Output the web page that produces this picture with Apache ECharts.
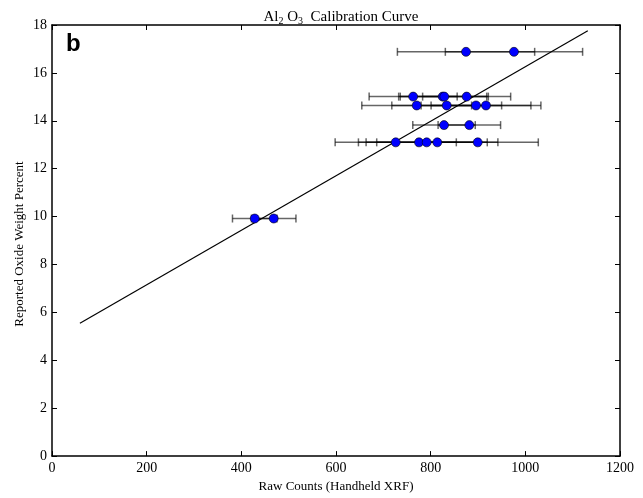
<!DOCTYPE html>
<html>
<head>
<meta charset="utf-8">
<script src="https://cdn.jsdelivr.net/npm/echarts@6/dist/echarts.min.js"></script>
<style>html,body{margin:0;padding:0;background:#fff;}#c{width:643px;height:498px;}</style>
</head>
<body>
<div id="c"></div>
<script>
// Data
const countsX = [874.7, 976, 763, 825.4, 828.8, 876, 770.5, 833.9, 895.8, 916.9, 828.2, 881.7, 726.2, 775.4, 791.6, 814, 899.4, 428.3, 468.4];
const weightY = [16.88, 16.88, 15.01, 15.01, 15.01, 15.01, 14.64, 14.64, 14.64, 14.64, 13.82, 13.82, 13.10, 13.10, 13.10, 13.10, 13.10, 9.92, 9.92];
const countsErr = [145, 145, 93, 93, 93, 93, 116, 116, 116, 116, 66, 66, 128, 128, 128, 128, 128, 47, 47];
const fitLineX = [59, 1132];
const fitLineY = [5.55, 17.76];
const xTicks = [0, 200, 400, 600, 800, 1000, 1200];
const yTicks = [0, 2, 4, 6, 8, 10, 12, 14, 16, 18];

const pts = countsX.map((x, i) => [x, weightY[i]]);
const errData = countsX.map((x, i) => [x - countsErr[i], x + countsErr[i], weightY[i]]);
const lineData = fitLineX.map((x, i) => [x, fitLineY[i]]);

const serif = 'Liberation Serif';
const axisBase = {
  axisLine: {show: true, onZero: false, lineStyle: {color: '#000', width: 1.5}},
  axisTick: {show: true, inside: true, length: 5, lineStyle: {color: '#000', width: 1}},
  splitLine: {show: false}
};

const chart = echarts.init(document.getElementById('c'), null, {renderer: 'canvas'});
chart.setOption({
  animation: false,
  backgroundColor: '#fff',
  title: {
    text: '{n|Al}{s|2}{n| O}{s|3}{n|  Calibration Curve}',
    left: 336, textAlign: 'center', top: 3,
    textStyle: {
      fontWeight: 'normal',
      rich: {
        n: {fontFamily: serif, fontSize: 15, fontWeight: 'normal', color: '#000', lineHeight: 18},
        s: {fontFamily: serif, fontSize: 10, fontWeight: 'normal', color: '#000', lineHeight: 18, padding: [8, 0, 0, 0]}
      }
    }
  },
  grid: {left: 52, right: 23, top: 25, bottom: 35},
  xAxis: [
    Object.assign({}, axisBase, {
      type: 'value', min: 0, max: 1200, interval: 200, position: 'bottom',
      name: 'Raw Counts (Handheld XRF)', nameLocation: 'middle', nameGap: 22,
      nameTextStyle: {fontFamily: serif, fontSize: 13, color: '#000'},
      axisLabel: {fontFamily: serif, fontSize: 14, color: '#000', margin: 5, formatter: v => String(v)}
    }),
    Object.assign({}, axisBase, {
      type: 'value', min: 0, max: 1200, interval: 200, position: 'top',
      axisLabel: {show: false}
    })
  ],
  yAxis: [
    Object.assign({}, axisBase, {
      type: 'value', min: 0, max: 18, interval: 2, position: 'left',
      axisLabel: {fontFamily: serif, fontSize: 14, color: '#000', margin: 5, formatter: v => String(v)}
    }),
    Object.assign({}, axisBase, {
      type: 'value', min: 0, max: 18, interval: 2, position: 'right',
      axisLabel: {show: false}
    })
  ],
  graphic: [
    {
      type: 'text', left: 66, top: 32,
      style: {text: 'b', font: 'bold 24px "Liberation Sans"', fill: '#000'}
    },
    {
      type: 'text', x: 20, y: 244, rotation: Math.PI / 2,
      style: {text: 'Reported Oxide Weight Percent', font: '13px "Liberation Serif"', fill: '#000',
              align: 'center', verticalAlign: 'middle'}
    }
  ],
  series: [
    {
      type: 'line', data: lineData, showSymbol: false, symbol: 'none',
      lineStyle: {color: '#000', width: 1.2}, z: 2, silent: true
    },
    {
      type: 'custom', data: errData, z: 3, silent: true,
      renderItem: function (params, api) {
        const a = api.coord([api.value(0), api.value(2)]);
        const b = api.coord([api.value(1), api.value(2)]);
        const h = 4;
        const st = {stroke: 'rgba(0,0,0,0.6)', lineWidth: 1.5};
        return {
          type: 'group',
          children: [
            {type: 'line', shape: {x1: a[0], y1: a[1], x2: b[0], y2: b[1]}, style: st},
            {type: 'line', shape: {x1: a[0], y1: a[1] - h, x2: a[0], y2: a[1] + h}, style: st},
            {type: 'line', shape: {x1: b[0], y1: b[1] - h, x2: b[0], y2: b[1] + h}, style: st}
          ]
        };
      }
    },
    {
      type: 'scatter', data: pts, symbol: 'circle', symbolSize: 9, z: 4,
      itemStyle: {color: '#0000ff', borderColor: '#000', borderWidth: 0.6, opacity: 1}
    }
  ]
});
</script>
</body>
</html>
